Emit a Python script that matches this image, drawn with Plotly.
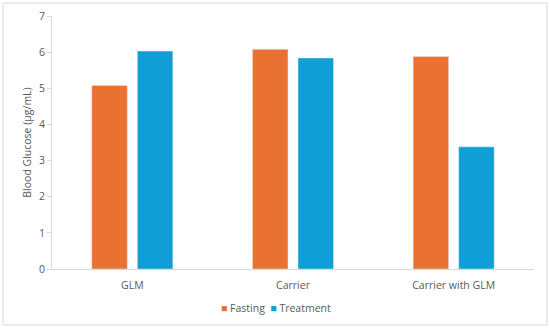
import plotly.graph_objects as go

categories = ["GLM", "Carrier", "Carrier with GLM"]
fasting = [5.08, 6.08, 5.88]
treatment = [6.03, 5.84, 3.38]
series_names = ["Fasting", "Treatment"]
series_colors = ["#E97132", "#0F9ED5"]
y_ticks = [0, 1, 2, 3, 4, 5, 6, 7]

W, H = 550, 328
ml, mr, mt, mb = 52, 16, 16, 59
pw, ph = W - ml - mr, H - mt - mb

font = "Open Sans, Liberation Sans, sans-serif"
grey = "#595959"

fig = go.Figure()
fig.add_trace(go.Bar(x=categories, y=fasting, name=series_names[0], marker_color=series_colors[0]))
fig.add_trace(go.Bar(x=categories, y=treatment, name=series_names[1], marker_color=series_colors[1]))

def px_x(p):
    return (p - ml) / pw

def px_y(p):
    return (H - mb - p) / ph

legend_text = "&nbsp;&nbsp;".join(
    f"<span style='color:{c}'>■</span> {n}" for n, c in zip(series_names, series_colors))

fig.update_layout(
    width=W, height=H,
    margin=dict(l=ml, r=mr, t=mt, b=mb, pad=0, autoexpand=False),
    paper_bgcolor="white", plot_bgcolor="white",
    barmode="group", bargap=0.433, bargroupgap=0.22,
    font=dict(family=font, size=10, color=grey),
    showlegend=False,
    xaxis=dict(showline=True, linecolor="#D9D9D9", linewidth=1, ticks="", automargin=False,
               showgrid=False, tickfont=dict(size=10.5, color=grey), ticklabelstandoff=6),
    yaxis=dict(range=[0, 7], tickvals=y_ticks, showline=True, linecolor="#D9D9D9",
               linewidth=1, ticks="outside", ticklen=4, tickcolor="#D9D9D9", automargin=False,
               showgrid=False, zeroline=False, tickfont=dict(size=10.5, color=grey),
               title=dict(text="Blood Glucose (µg/mL)", font=dict(size=10.5, color=grey), standoff=5)),
    annotations=[dict(text=legend_text, xref="paper", yref="paper", x=px_x(276), y=px_y(308),
                      xanchor="center", yanchor="middle", showarrow=False,
                      font=dict(size=10.5, color=grey))],
    shapes=[dict(type="rect", xref="paper", yref="paper",
                 x0=px_x(3), x1=px_x(547), y0=px_y(325), y1=px_y(3),
                 line=dict(color="#D9D9D9", width=1), fillcolor="rgba(0,0,0,0)", layer="below")],
)

fig.write_html("out.html", config={"displayModeBar": False},
               post_script="document.body.style.margin='0';")
